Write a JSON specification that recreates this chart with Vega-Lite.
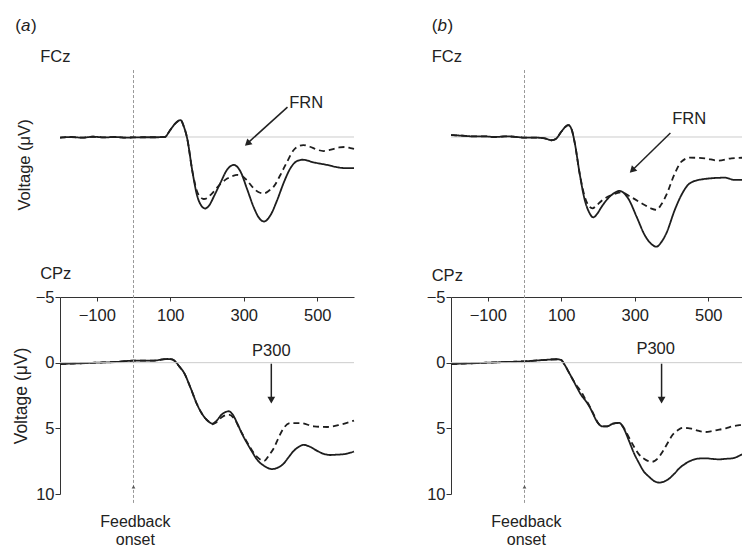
{
  "$schema": "https://vega.github.io/schema/vega-lite/v6.json",
  "background": "white",
  "padding": {"left": 12, "top": 0, "right": 0, "bottom": 0},
  "config": {
    "font": "Liberation Sans",
    "view": {"stroke": null},
    "axis": {"grid": false},
    "text": {"fontSize": 16.5, "color": "#222222"}
  },
  "datasets": {
    "one": [{}],
    "fa": [
      {"c":"solid","t":-200,"v":0.05},{"c":"solid","t":-170,"v":0.0},{"c":"solid","t":-140,"v":0.05},{"c":"solid","t":-110,"v":-0.02},{"c":"solid","t":-80,"v":0.03},{"c":"solid","t":-50,"v":0.0},{"c":"solid","t":-20,"v":0.05},{"c":"solid","t":0,"v":0.03},{"c":"solid","t":30,"v":0.02},{"c":"solid","t":60,"v":0.02},{"c":"solid","t":85,"v":0.0},{"c":"solid","t":100,"v":-0.54},{"c":"solid","t":114,"v":-1.05},{"c":"solid","t":128,"v":-1.3},{"c":"solid","t":137,"v":-0.8},{"c":"solid","t":146,"v":0.1},{"c":"solid","t":160,"v":2.6},
      {"c":"solid","t":173,"v":4.5},{"c":"solid","t":185,"v":5.3},{"c":"solid","t":195,"v":5.5},{"c":"solid","t":205,"v":5.3},{"c":"solid","t":220,"v":4.5},{"c":"solid","t":237,"v":3.5},{"c":"solid","t":255,"v":2.5},{"c":"solid","t":273,"v":2.15},{"c":"solid","t":291,"v":2.65},{"c":"solid","t":309,"v":4.0},{"c":"solid","t":327,"v":5.4},{"c":"solid","t":341,"v":6.2},{"c":"solid","t":355,"v":6.5},{"c":"solid","t":373,"v":6.0},{"c":"solid","t":391,"v":4.85},{"c":"solid","t":409,"v":3.5},{"c":"solid","t":427,"v":2.4},{"c":"solid","t":445,"v":1.85},{"c":"solid","t":460,"v":1.75},{"c":"solid","t":490,"v":1.95},{"c":"solid","t":527,"v":2.15},{"c":"solid","t":560,"v":2.35},{"c":"solid","t":580,"v":2.4},{"c":"solid","t":600,"v":2.4},
      {"c":"dashed","t":-200,"v":0.05},{"c":"dashed","t":-170,"v":0.0},{"c":"dashed","t":-140,"v":0.05},{"c":"dashed","t":-110,"v":-0.02},{"c":"dashed","t":-80,"v":0.03},{"c":"dashed","t":-50,"v":0.0},{"c":"dashed","t":-20,"v":0.05},{"c":"dashed","t":0,"v":0.03},{"c":"dashed","t":30,"v":0.02},{"c":"dashed","t":60,"v":0.02},{"c":"dashed","t":85,"v":0.0},{"c":"dashed","t":100,"v":-0.54},{"c":"dashed","t":114,"v":-1.05},{"c":"dashed","t":128,"v":-1.3},{"c":"dashed","t":137,"v":-0.8},{"c":"dashed","t":146,"v":0.1},{"c":"dashed","t":160,"v":2.6},
      {"c":"dashed","t":173,"v":4.2},{"c":"dashed","t":183,"v":4.65},{"c":"dashed","t":191,"v":4.77},{"c":"dashed","t":200,"v":4.7},{"c":"dashed","t":210,"v":4.45},{"c":"dashed","t":237,"v":3.6},{"c":"dashed","t":255,"v":3.2},{"c":"dashed","t":270,"v":3.0},{"c":"dashed","t":282,"v":2.92},{"c":"dashed","t":295,"v":3.0},{"c":"dashed","t":309,"v":3.35},{"c":"dashed","t":327,"v":3.95},{"c":"dashed","t":341,"v":4.25},{"c":"dashed","t":355,"v":4.33},{"c":"dashed","t":370,"v":4.1},{"c":"dashed","t":382,"v":3.8},{"c":"dashed","t":400,"v":2.9},{"c":"dashed","t":418,"v":1.9},{"c":"dashed","t":436,"v":1.0},{"c":"dashed","t":450,"v":0.7},{"c":"dashed","t":462,"v":0.62},{"c":"dashed","t":480,"v":0.75},{"c":"dashed","t":500,"v":0.98},{"c":"dashed","t":517,"v":1.08},{"c":"dashed","t":540,"v":0.95},{"c":"dashed","t":560,"v":0.8},{"c":"dashed","t":575,"v":0.77},{"c":"dashed","t":590,"v":0.85},{"c":"dashed","t":600,"v":0.92}
    ],
    "fb": [
      {"c":"solid","t":-200,"v":-0.15},{"c":"solid","t":-170,"v":-0.1},{"c":"solid","t":-140,"v":-0.05},{"c":"solid","t":-110,"v":-0.05},{"c":"solid","t":-80,"v":0.0},{"c":"solid","t":-50,"v":-0.05},{"c":"solid","t":-20,"v":0.0},{"c":"solid","t":0,"v":0.05},{"c":"solid","t":30,"v":0.05},{"c":"solid","t":55,"v":0.1},{"c":"solid","t":73,"v":0.25},{"c":"solid","t":85,"v":0.15},{"c":"solid","t":100,"v":-0.4},{"c":"solid","t":112,"v":-0.8},{"c":"solid","t":119,"v":-0.92},{"c":"solid","t":128,"v":-0.6},{"c":"solid","t":137,"v":0.49},{"c":"solid","t":150,"v":2.8},
      {"c":"solid","t":164,"v":4.85},{"c":"solid","t":176,"v":5.8},{"c":"solid","t":187,"v":6.18},{"c":"solid","t":198,"v":5.9},{"c":"solid","t":210,"v":5.36},{"c":"solid","t":237,"v":4.46},{"c":"solid","t":259,"v":4.15},{"c":"solid","t":282,"v":4.72},{"c":"solid","t":305,"v":6.13},{"c":"solid","t":327,"v":7.54},{"c":"solid","t":344,"v":8.2},{"c":"solid","t":359,"v":8.44},{"c":"solid","t":372,"v":8.1},{"c":"solid","t":386,"v":7.4},{"c":"solid","t":409,"v":5.6},{"c":"solid","t":427,"v":4.46},{"c":"solid","t":450,"v":3.56},{"c":"solid","t":482,"v":3.26},{"c":"solid","t":545,"v":3.13},{"c":"solid","t":572,"v":3.3},{"c":"solid","t":600,"v":3.3},
      {"c":"dashed","t":-200,"v":-0.15},{"c":"dashed","t":-170,"v":-0.1},{"c":"dashed","t":-140,"v":-0.05},{"c":"dashed","t":-110,"v":-0.05},{"c":"dashed","t":-80,"v":0.0},{"c":"dashed","t":-50,"v":-0.05},{"c":"dashed","t":-20,"v":0.0},{"c":"dashed","t":0,"v":0.05},{"c":"dashed","t":30,"v":0.05},{"c":"dashed","t":55,"v":0.1},{"c":"dashed","t":73,"v":0.25},{"c":"dashed","t":85,"v":0.15},{"c":"dashed","t":100,"v":-0.4},{"c":"dashed","t":112,"v":-0.8},{"c":"dashed","t":119,"v":-0.92},{"c":"dashed","t":128,"v":-0.6},{"c":"dashed","t":137,"v":0.49},{"c":"dashed","t":150,"v":2.8},
      {"c":"dashed","t":164,"v":4.6},{"c":"dashed","t":175,"v":5.3},{"c":"dashed","t":185,"v":5.49},{"c":"dashed","t":195,"v":5.3},{"c":"dashed","t":210,"v":4.9},{"c":"dashed","t":237,"v":4.46},{"c":"dashed","t":264,"v":4.26},{"c":"dashed","t":291,"v":4.64},{"c":"dashed","t":327,"v":5.23},{"c":"dashed","t":345,"v":5.5},{"c":"dashed","t":359,"v":5.6},{"c":"dashed","t":372,"v":5.2},{"c":"dashed","t":386,"v":4.46},{"c":"dashed","t":409,"v":2.8},{"c":"dashed","t":427,"v":1.9},{"c":"dashed","t":450,"v":1.59},{"c":"dashed","t":491,"v":1.64},{"c":"dashed","t":527,"v":1.82},{"c":"dashed","t":563,"v":1.64},{"c":"dashed","t":600,"v":1.59}
    ],
    "ca": [
      {"c":"solid","t":-200,"v":0.1},{"c":"solid","t":-150,"v":0.05},{"c":"solid","t":-100,"v":0.0},{"c":"solid","t":-50,"v":-0.05},{"c":"solid","t":0,"v":-0.15},{"c":"solid","t":50,"v":-0.15},{"c":"solid","t":92,"v":-0.28},{"c":"solid","t":105,"v":-0.25},{"c":"solid","t":115,"v":-0.05},{"c":"solid","t":125,"v":0.3},{"c":"solid","t":137,"v":0.74},{"c":"solid","t":155,"v":1.9},{"c":"solid","t":173,"v":3.18},{"c":"solid","t":191,"v":4.08},{"c":"solid","t":205,"v":4.5},
      {"c":"solid","t":214,"v":4.64},{"c":"solid","t":225,"v":4.45},{"c":"solid","t":240,"v":3.95},{"c":"solid","t":259,"v":3.7},{"c":"solid","t":270,"v":3.95},{"c":"solid","t":282,"v":4.6},{"c":"solid","t":295,"v":5.4},{"c":"solid","t":309,"v":6.13},{"c":"solid","t":323,"v":6.8},{"c":"solid","t":337,"v":7.41},{"c":"solid","t":355,"v":7.85},{"c":"solid","t":377,"v":8.1},{"c":"solid","t":392,"v":8.0},{"c":"solid","t":409,"v":7.67},{"c":"solid","t":422,"v":7.2},{"c":"solid","t":436,"v":6.72},{"c":"solid","t":450,"v":6.4},{"c":"solid","t":463,"v":6.26},{"c":"solid","t":480,"v":6.4},{"c":"solid","t":500,"v":6.72},{"c":"solid","t":518,"v":6.95},{"c":"solid","t":536,"v":7.03},{"c":"solid","t":555,"v":7.0},{"c":"solid","t":572,"v":6.97},{"c":"solid","t":590,"v":6.85},{"c":"solid","t":600,"v":6.77},
      {"c":"dashed","t":-200,"v":0.1},{"c":"dashed","t":-150,"v":0.05},{"c":"dashed","t":-100,"v":0.0},{"c":"dashed","t":-50,"v":-0.05},{"c":"dashed","t":0,"v":-0.15},{"c":"dashed","t":50,"v":-0.15},{"c":"dashed","t":92,"v":-0.28},{"c":"dashed","t":105,"v":-0.25},{"c":"dashed","t":115,"v":-0.05},{"c":"dashed","t":125,"v":0.3},{"c":"dashed","t":137,"v":0.74},{"c":"dashed","t":155,"v":1.9},{"c":"dashed","t":173,"v":3.18},{"c":"dashed","t":191,"v":4.08},{"c":"dashed","t":205,"v":4.5},
      {"c":"dashed","t":214,"v":4.7},{"c":"dashed","t":225,"v":4.55},{"c":"dashed","t":240,"v":4.15},{"c":"dashed","t":259,"v":3.95},{"c":"dashed","t":275,"v":4.3},{"c":"dashed","t":290,"v":5.1},{"c":"dashed","t":309,"v":6.05},{"c":"dashed","t":323,"v":6.7},{"c":"dashed","t":337,"v":7.2},{"c":"dashed","t":355,"v":7.49},{"c":"dashed","t":370,"v":7.0},{"c":"dashed","t":382,"v":6.5},{"c":"dashed","t":395,"v":5.7},{"c":"dashed","t":409,"v":4.97},{"c":"dashed","t":427,"v":4.6},{"c":"dashed","t":454,"v":4.6},{"c":"dashed","t":491,"v":4.85},{"c":"dashed","t":527,"v":4.9},{"c":"dashed","t":563,"v":4.72},{"c":"dashed","t":600,"v":4.41}
    ],
    "cb": [
      {"c":"solid","t":-200,"v":0.1},{"c":"solid","t":-150,"v":0.05},{"c":"solid","t":-100,"v":0.0},{"c":"solid","t":-50,"v":-0.05},{"c":"solid","t":0,"v":-0.1},{"c":"solid","t":50,"v":-0.2},{"c":"solid","t":90,"v":-0.26},{"c":"solid","t":100,"v":-0.2},{"c":"solid","t":108,"v":0.1},{"c":"solid","t":120,"v":0.7},{"c":"solid","t":131,"v":1.26},
      {"c":"solid","t":142,"v":1.85},{"c":"solid","t":153,"v":2.41},{"c":"solid","t":165,"v":2.85},{"c":"solid","t":176,"v":3.31},{"c":"solid","t":185,"v":3.8},{"c":"solid","t":194,"v":4.33},{"c":"solid","t":203,"v":4.7},{"c":"solid","t":212,"v":4.85},{"c":"solid","t":225,"v":4.85},{"c":"solid","t":240,"v":4.65},{"c":"solid","t":258,"v":4.59},{"c":"solid","t":270,"v":5.0},{"c":"solid","t":285,"v":6.0},{"c":"solid","t":298,"v":6.9},{"c":"solid","t":312,"v":7.67},{"c":"solid","t":325,"v":8.3},{"c":"solid","t":339,"v":8.69},{"c":"solid","t":352,"v":9.0},{"c":"solid","t":367,"v":9.13},{"c":"solid","t":380,"v":9.05},{"c":"solid","t":394,"v":8.82},{"c":"solid","t":408,"v":8.45},{"c":"solid","t":421,"v":8.05},{"c":"solid","t":440,"v":7.65},{"c":"solid","t":457,"v":7.41},{"c":"solid","t":475,"v":7.3},{"c":"solid","t":493,"v":7.28},{"c":"solid","t":512,"v":7.33},{"c":"solid","t":530,"v":7.36},{"c":"solid","t":548,"v":7.32},{"c":"solid","t":566,"v":7.28},{"c":"solid","t":580,"v":7.15},{"c":"solid","t":593,"v":6.97},{"c":"solid","t":600,"v":6.9},
      {"c":"dashed","t":-200,"v":0.1},{"c":"dashed","t":-150,"v":0.05},{"c":"dashed","t":-100,"v":0.0},{"c":"dashed","t":-50,"v":-0.05},{"c":"dashed","t":0,"v":-0.1},{"c":"dashed","t":50,"v":-0.2},{"c":"dashed","t":90,"v":-0.26},{"c":"dashed","t":100,"v":-0.2},{"c":"dashed","t":108,"v":0.1},{"c":"dashed","t":120,"v":0.7},{"c":"dashed","t":131,"v":1.26},
      {"c":"dashed","t":142,"v":1.75},{"c":"dashed","t":153,"v":2.15},{"c":"dashed","t":165,"v":2.75},{"c":"dashed","t":176,"v":3.25},{"c":"dashed","t":185,"v":3.75},{"c":"dashed","t":194,"v":4.3},{"c":"dashed","t":203,"v":4.7},{"c":"dashed","t":212,"v":4.85},{"c":"dashed","t":225,"v":4.85},{"c":"dashed","t":240,"v":4.65},{"c":"dashed","t":258,"v":4.59},{"c":"dashed","t":270,"v":4.95},{"c":"dashed","t":285,"v":5.74},{"c":"dashed","t":298,"v":6.4},{"c":"dashed","t":312,"v":7.0},{"c":"dashed","t":330,"v":7.4},{"c":"dashed","t":348,"v":7.54},{"c":"dashed","t":362,"v":7.3},{"c":"dashed","t":376,"v":6.77},{"c":"dashed","t":390,"v":6.1},{"c":"dashed","t":403,"v":5.49},{"c":"dashed","t":417,"v":5.15},{"c":"dashed","t":430,"v":4.97},{"c":"dashed","t":445,"v":4.98},{"c":"dashed","t":457,"v":5.05},{"c":"dashed","t":475,"v":5.2},{"c":"dashed","t":493,"v":5.28},{"c":"dashed","t":512,"v":5.2},{"c":"dashed","t":530,"v":5.1},{"c":"dashed","t":548,"v":5.0},{"c":"dashed","t":566,"v":4.85},{"c":"dashed","t":580,"v":4.78},{"c":"dashed","t":593,"v":4.72},{"c":"dashed","t":600,"v":4.7}
    ]
  },
  "columns": 2,
  "spacing": {"row": 0, "column": 68},
  "concat": [
    {
      "width": 294, "height": 288,
      "layer": [
        {"data": {"name": "one"}, "mark": {"type": "rule", "color": "#cccccc", "strokeWidth": 1},
         "encoding": {"y": {"datum": 0, "scale": {"domain": [-10.538, 11.615], "reverse": true, "nice": false, "zero": false}, "axis": null}}},
        {"data": {"name": "one"}, "mark": {"type": "rule", "color": "#999999", "strokeWidth": 1, "strokeDash": [3, 2]},
         "encoding": {"x": {"datum": 0, "scale": {"domain": [-200, 600], "nice": false, "zero": false}, "axis": null},
                      "y": {"datum": -5.15, "scale": {"domain": [-10.538, 11.615], "reverse": true, "nice": false, "zero": false}, "axis": null},
                      "y2": {"datum": 11.615}}},
        {"data": {"name": "fa"},
         "mark": {"type": "line", "color": "#1e1e1e", "strokeWidth": 1.8, "interpolate": "monotone"},
         "encoding": {"x": {"field": "t", "type": "quantitative", "scale": {"domain": [-200, 600], "nice": false, "zero": false}, "axis": null},
                      "y": {"field": "v", "type": "quantitative", "scale": {"domain": [-10.538, 11.615], "reverse": true, "nice": false, "zero": false}, "axis": null},
                      "strokeDash": {"field": "c", "type": "nominal", "scale": {"domain": ["solid", "dashed"], "range": [[1, 0], [6, 4]]}, "legend": null}}},
        {"data": {"name": "one"}, "mark": {"type": "rule", "color": "#222222", "strokeWidth": 1.5},
         "encoding": {"x": {"datum": 419, "scale": {"domain": [-200, 600], "nice": false, "zero": false}, "axis": null},
                      "y": {"datum": -2.3, "scale": {"domain": [-10.538, 11.615], "reverse": true, "nice": false, "zero": false}, "axis": null},
                      "x2": {"datum": 313}, "y2": {"datum": 0.41}}},
        {"data": {"name": "one"}, "mark": {"type": "point", "shape": "triangle-up", "filled": true, "color": "#222222", "opacity": 1, "size": 60, "angle": 228},
         "encoding": {"x": {"datum": 310, "scale": {"domain": [-200, 600], "nice": false, "zero": false}, "axis": null},
                      "y": {"datum": 0.5, "scale": {"domain": [-10.538, 11.615], "reverse": true, "nice": false, "zero": false}, "axis": null}}},
        {"data": {"name": "one"}, "mark": {"type": "text", "text": "FRN", "align": "center", "baseline": "middle"},
         "encoding": {"x": {"datum": 470, "scale": {"domain": [-200, 600], "nice": false, "zero": false}, "axis": null},
                      "y": {"datum": -2.59, "scale": {"domain": [-10.538, 11.615], "reverse": true, "nice": false, "zero": false}, "axis": null}}},
        {"data": {"name": "one"}, "mark": {"type": "text", "text": "(", "align": "left", "baseline": "middle", "fontSize": 17},
         "encoding": {"x": {"datum": -322, "scale": {"domain": [-200, 600], "nice": false, "zero": false}, "axis": null},
                      "y": {"datum": -8.55, "scale": {"domain": [-10.538, 11.615], "reverse": true, "nice": false, "zero": false}, "axis": null}}},
        {"data": {"name": "one"}, "mark": {"type": "text", "text": "a", "align": "left", "baseline": "middle", "fontSize": 17, "fontStyle": "italic"},
         "encoding": {"x": {"datum": -306, "scale": {"domain": [-200, 600], "nice": false, "zero": false}, "axis": null},
                      "y": {"datum": -8.55, "scale": {"domain": [-10.538, 11.615], "reverse": true, "nice": false, "zero": false}, "axis": null}}},
        {"data": {"name": "one"}, "mark": {"type": "text", "text": ")", "align": "left", "baseline": "middle", "fontSize": 17},
         "encoding": {"x": {"datum": -279, "scale": {"domain": [-200, 600], "nice": false, "zero": false}, "axis": null},
                      "y": {"datum": -8.55, "scale": {"domain": [-10.538, 11.615], "reverse": true, "nice": false, "zero": false}, "axis": null}}},
        {"data": {"name": "one"}, "mark": {"type": "text", "text": "FCz", "align": "left", "baseline": "middle"},
         "encoding": {"x": {"datum": -254, "scale": {"domain": [-200, 600], "nice": false, "zero": false}, "axis": null},
                      "y": {"datum": -6.12, "scale": {"domain": [-10.538, 11.615], "reverse": true, "nice": false, "zero": false}, "axis": null}}},
        {"data": {"name": "one"}, "mark": {"type": "text", "text": "CPz", "align": "left", "baseline": "middle"},
         "encoding": {"x": {"datum": -254, "scale": {"domain": [-200, 600], "nice": false, "zero": false}, "axis": null},
                      "y": {"datum": 10.5, "scale": {"domain": [-10.538, 11.615], "reverse": true, "nice": false, "zero": false}, "axis": null}}},
        {"data": {"name": "one"}, "mark": {"type": "text", "text": "Voltage (μV)", "align": "center", "baseline": "middle", "angle": 270},
         "encoding": {"x": {"datum": -295, "scale": {"domain": [-200, 600], "nice": false, "zero": false}, "axis": null},
                      "y": {"datum": 2.15, "scale": {"domain": [-10.538, 11.615], "reverse": true, "nice": false, "zero": false}, "axis": null}}}
      ]
    },
    {
      "width": 294, "height": 288,
      "layer": [
        {"data": {"name": "one"}, "mark": {"type": "rule", "color": "#cccccc", "strokeWidth": 1},
         "encoding": {"y": {"datum": 0, "scale": {"domain": [-10.538, 11.615], "reverse": true, "nice": false, "zero": false}, "axis": null}}},
        {"data": {"name": "one"}, "mark": {"type": "rule", "color": "#999999", "strokeWidth": 1, "strokeDash": [3, 2]},
         "encoding": {"x": {"datum": 0, "scale": {"domain": [-200, 600], "nice": false, "zero": false}, "axis": null},
                      "y": {"datum": -5.15, "scale": {"domain": [-10.538, 11.615], "reverse": true, "nice": false, "zero": false}, "axis": null},
                      "y2": {"datum": 11.615}}},
        {"data": {"name": "fb"},
         "mark": {"type": "line", "color": "#1e1e1e", "strokeWidth": 1.8, "interpolate": "monotone"},
         "encoding": {"x": {"field": "t", "type": "quantitative", "scale": {"domain": [-200, 600], "nice": false, "zero": false}, "axis": null},
                      "y": {"field": "v", "type": "quantitative", "scale": {"domain": [-10.538, 11.615], "reverse": true, "nice": false, "zero": false}, "axis": null},
                      "strokeDash": {"field": "c", "type": "nominal", "scale": {"domain": ["solid", "dashed"], "range": [[1, 0], [6, 4]]}, "legend": null}}},
        {"data": {"name": "one"}, "mark": {"type": "rule", "color": "#222222", "strokeWidth": 1.5},
         "encoding": {"x": {"datum": 397, "scale": {"domain": [-200, 600], "nice": false, "zero": false}, "axis": null},
                      "y": {"datum": -0.31, "scale": {"domain": [-10.538, 11.615], "reverse": true, "nice": false, "zero": false}, "axis": null},
                      "x2": {"datum": 296}, "y2": {"datum": 2.48}}},
        {"data": {"name": "one"}, "mark": {"type": "point", "shape": "triangle-up", "filled": true, "color": "#222222", "opacity": 1, "size": 60, "angle": 226},
         "encoding": {"x": {"datum": 293, "scale": {"domain": [-200, 600], "nice": false, "zero": false}, "axis": null},
                      "y": {"datum": 2.57, "scale": {"domain": [-10.538, 11.615], "reverse": true, "nice": false, "zero": false}, "axis": null}}},
        {"data": {"name": "one"}, "mark": {"type": "text", "text": "FRN", "align": "center", "baseline": "middle"},
         "encoding": {"x": {"datum": 448, "scale": {"domain": [-200, 600], "nice": false, "zero": false}, "axis": null},
                      "y": {"datum": -1.4, "scale": {"domain": [-10.538, 11.615], "reverse": true, "nice": false, "zero": false}, "axis": null}}},
        {"data": {"name": "one"}, "mark": {"type": "text", "text": "(", "align": "left", "baseline": "middle", "fontSize": 17},
         "encoding": {"x": {"datum": -252.5, "scale": {"domain": [-200, 600], "nice": false, "zero": false}, "axis": null},
                      "y": {"datum": -8.55, "scale": {"domain": [-10.538, 11.615], "reverse": true, "nice": false, "zero": false}, "axis": null}}},
        {"data": {"name": "one"}, "mark": {"type": "text", "text": "b", "align": "left", "baseline": "middle", "fontSize": 17, "fontStyle": "italic"},
         "encoding": {"x": {"datum": -236.5, "scale": {"domain": [-200, 600], "nice": false, "zero": false}, "axis": null},
                      "y": {"datum": -8.55, "scale": {"domain": [-10.538, 11.615], "reverse": true, "nice": false, "zero": false}, "axis": null}}},
        {"data": {"name": "one"}, "mark": {"type": "text", "text": ")", "align": "left", "baseline": "middle", "fontSize": 17},
         "encoding": {"x": {"datum": -209.5, "scale": {"domain": [-200, 600], "nice": false, "zero": false}, "axis": null},
                      "y": {"datum": -8.55, "scale": {"domain": [-10.538, 11.615], "reverse": true, "nice": false, "zero": false}, "axis": null}}},
        {"data": {"name": "one"}, "mark": {"type": "text", "text": "FCz", "align": "left", "baseline": "middle"},
         "encoding": {"x": {"datum": -252.5, "scale": {"domain": [-200, 600], "nice": false, "zero": false}, "axis": null},
                      "y": {"datum": -6.18, "scale": {"domain": [-10.538, 11.615], "reverse": true, "nice": false, "zero": false}, "axis": null}}},
        {"data": {"name": "one"}, "mark": {"type": "text", "text": "CPz", "align": "left", "baseline": "middle"},
         "encoding": {"x": {"datum": -252.5, "scale": {"domain": [-200, 600], "nice": false, "zero": false}, "axis": null},
                      "y": {"datum": 10.68, "scale": {"domain": [-10.538, 11.615], "reverse": true, "nice": false, "zero": false}, "axis": null}}}
      ]
    },
    {
      "width": 294, "height": 197,
      "layer": [
        {"data": {"name": "ca"},
         "mark": {"type": "line", "color": "#1e1e1e", "strokeWidth": 1.8, "interpolate": "monotone"},
         "encoding": {"x": {"field": "t", "type": "quantitative", "scale": {"domain": [-200, 600], "nice": false, "zero": false},
                            "axis": {"orient": "bottom", "offset": -197, "values": [-100, 100, 300, 500], "tickSize": 4, "labelPadding": 6, "title": null, "labelFontSize": 16.5, "labelColor": "#222222", "domainColor": "#333333", "tickColor": "#333333", "labelFlush": false, "grid": false}},
                      "y": {"field": "v", "type": "quantitative", "scale": {"domain": [-5, 10], "reverse": true, "nice": false, "zero": false},
                            "axis": {"values": [-5, 0, 5, 10], "tickSize": 5, "labelPadding": 1, "title": "Voltage (μV)", "titlePadding": 5, "titleFontSize": 17.5, "titleFontWeight": "normal", "titleColor": "#222222", "labelFontSize": 16.5, "labelColor": "#222222", "domainColor": "#333333", "tickColor": "#333333", "labelFlush": false, "grid": false}},
                      "strokeDash": {"field": "c", "type": "nominal", "scale": {"domain": ["solid", "dashed"], "range": [[1, 0], [6, 4]]}, "legend": null}}},
        {"data": {"name": "one"}, "mark": {"type": "rule", "color": "#cccccc", "strokeWidth": 1},
         "encoding": {"y": {"datum": 0, "scale": {"domain": [-5, 10], "reverse": true, "nice": false, "zero": false}}}},
        {"data": {"name": "one"}, "mark": {"type": "rule", "color": "#999999", "strokeWidth": 1, "strokeDash": [3, 2]},
         "encoding": {"x": {"datum": 0, "scale": {"domain": [-200, 600], "nice": false, "zero": false}},
                      "y": {"datum": -5.54, "scale": {"domain": [-5, 10], "reverse": true, "nice": false, "zero": false}},
                      "y2": {"datum": 10.77}}},
        {"data": {"name": "one"}, "mark": {"type": "rule", "color": "#222222", "strokeWidth": 1.5},
         "encoding": {"x": {"datum": 375, "scale": {"domain": [-200, 600], "nice": false, "zero": false}},
                      "y": {"datum": 0.08, "scale": {"domain": [-5, 10], "reverse": true, "nice": false, "zero": false}},
                      "y2": {"datum": 2.8}}},
        {"data": {"name": "one"}, "mark": {"type": "point", "shape": "triangle-down", "filled": true, "color": "#222222", "opacity": 1, "size": 60},
         "encoding": {"x": {"datum": 375, "scale": {"domain": [-200, 600], "nice": false, "zero": false}},
                      "y": {"datum": 2.85, "scale": {"domain": [-5, 10], "reverse": true, "nice": false, "zero": false}}}},
        {"data": {"name": "one"}, "mark": {"type": "text", "text": "P300", "align": "center", "baseline": "middle"},
         "encoding": {"x": {"datum": 375, "scale": {"domain": [-200, 600], "nice": false, "zero": false}},
                      "y": {"datum": -0.92, "scale": {"domain": [-5, 10], "reverse": true, "nice": false, "zero": false}}}},
        {"data": {"name": "one"}, "mark": {"type": "point", "shape": "triangle-up", "filled": true, "color": "#555555", "opacity": 1, "size": 14},
         "encoding": {"x": {"datum": 0, "scale": {"domain": [-200, 600], "nice": false, "zero": false}},
                      "y": {"datum": 9.46, "scale": {"domain": [-5, 10], "reverse": true, "nice": false, "zero": false}}}},
        {"data": {"name": "one"}, "mark": {"type": "text", "text": "Feedback\nonset", "lineBreak": "\n", "lineHeight": 18.5, "fontSize": 16, "align": "center", "baseline": "alphabetic"},
         "encoding": {"x": {"datum": 5, "scale": {"domain": [-200, 600], "nice": false, "zero": false}},
                      "y": {"datum": 12.5, "scale": {"domain": [-5, 10], "reverse": true, "nice": false, "zero": false}}}}
      ]
    },
    {
      "width": 294, "height": 197,
      "layer": [
        {"data": {"name": "cb"},
         "mark": {"type": "line", "color": "#1e1e1e", "strokeWidth": 1.8, "interpolate": "monotone"},
         "encoding": {"x": {"field": "t", "type": "quantitative", "scale": {"domain": [-200, 600], "nice": false, "zero": false},
                            "axis": {"orient": "bottom", "offset": -197, "values": [-100, 100, 300, 500], "tickSize": 4, "labelPadding": 6, "title": null, "labelFontSize": 16.5, "labelColor": "#222222", "domainColor": "#333333", "tickColor": "#333333", "labelFlush": false, "grid": false}},
                      "y": {"field": "v", "type": "quantitative", "scale": {"domain": [-5, 10], "reverse": true, "nice": false, "zero": false},
                            "axis": {"values": [-5, 0, 5, 10], "tickSize": 5, "labelPadding": 1, "title": null, "labelFontSize": 16.5, "labelColor": "#222222", "domainColor": "#333333", "tickColor": "#333333", "labelFlush": false, "grid": false}},
                      "strokeDash": {"field": "c", "type": "nominal", "scale": {"domain": ["solid", "dashed"], "range": [[1, 0], [6, 4]]}, "legend": null}}},
        {"data": {"name": "one"}, "mark": {"type": "rule", "color": "#cccccc", "strokeWidth": 1},
         "encoding": {"y": {"datum": 0, "scale": {"domain": [-5, 10], "reverse": true, "nice": false, "zero": false}}}},
        {"data": {"name": "one"}, "mark": {"type": "rule", "color": "#999999", "strokeWidth": 1, "strokeDash": [3, 2]},
         "encoding": {"x": {"datum": 0, "scale": {"domain": [-200, 600], "nice": false, "zero": false}},
                      "y": {"datum": -5.54, "scale": {"domain": [-5, 10], "reverse": true, "nice": false, "zero": false}},
                      "y2": {"datum": 10.77}}},
        {"data": {"name": "one"}, "mark": {"type": "rule", "color": "#222222", "strokeWidth": 1.5},
         "encoding": {"x": {"datum": 373, "scale": {"domain": [-200, 600], "nice": false, "zero": false}},
                      "y": {"datum": 0.08, "scale": {"domain": [-5, 10], "reverse": true, "nice": false, "zero": false}},
                      "y2": {"datum": 2.8}}},
        {"data": {"name": "one"}, "mark": {"type": "point", "shape": "triangle-down", "filled": true, "color": "#222222", "opacity": 1, "size": 60},
         "encoding": {"x": {"datum": 373, "scale": {"domain": [-200, 600], "nice": false, "zero": false}},
                      "y": {"datum": 2.85, "scale": {"domain": [-5, 10], "reverse": true, "nice": false, "zero": false}}}},
        {"data": {"name": "one"}, "mark": {"type": "text", "text": "P300", "align": "center", "baseline": "middle"},
         "encoding": {"x": {"datum": 357, "scale": {"domain": [-200, 600], "nice": false, "zero": false}},
                      "y": {"datum": -1.05, "scale": {"domain": [-5, 10], "reverse": true, "nice": false, "zero": false}}}},
        {"data": {"name": "one"}, "mark": {"type": "point", "shape": "triangle-up", "filled": true, "color": "#555555", "opacity": 1, "size": 14},
         "encoding": {"x": {"datum": 0, "scale": {"domain": [-200, 600], "nice": false, "zero": false}},
                      "y": {"datum": 9.46, "scale": {"domain": [-5, 10], "reverse": true, "nice": false, "zero": false}}}},
        {"data": {"name": "one"}, "mark": {"type": "text", "text": "Feedback\nonset", "lineBreak": "\n", "lineHeight": 18.5, "fontSize": 16, "align": "center", "baseline": "alphabetic"},
         "encoding": {"x": {"datum": 5, "scale": {"domain": [-200, 600], "nice": false, "zero": false}},
                      "y": {"datum": 12.5, "scale": {"domain": [-5, 10], "reverse": true, "nice": false, "zero": false}}}}
      ]
    }
  ]
}
